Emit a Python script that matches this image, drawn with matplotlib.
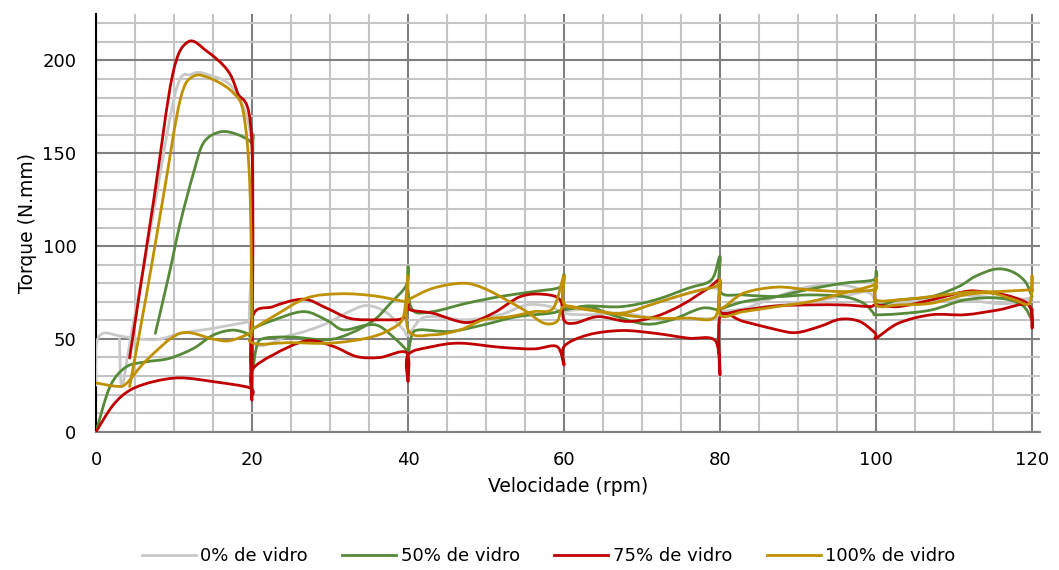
import numpy as np
import matplotlib
matplotlib.use("Agg")
import matplotlib.pyplot as plt
from matplotlib.path import Path
from matplotlib.patches import PathPatch
from matplotlib.lines import Line2D

# Torque (N.mm) vs speed (rpm), two runs per glass content
gray_a_x = [0, 0, 0.9, 3, 5.6, 8.2, 10.8, 15, 19.7, 20]
gray_a_y = [25, 46, 53, 51.6, 49.9, 49.9, 53, 55.7, 59.3, 59]

gray_b_x = [3.0, 3.3, 4.4, 7, 10.2, 12.2, 14.3, 17.7, 19.9, 20, 20, 24.9, 29.1, 32.1, 34.7, 37.3, 39.4, 40,
            41.5, 43.2, 47.5, 51.8, 55.2, 58.2, 60, 63, 67.4, 71.7, 75.9, 79.4, 80, 83, 87.3, 91.5, 95.8,
            99.2, 100, 102.9, 107.1, 111.4, 115.7, 119.1, 120]
gray_b_y = [50, 24.3, 49.6, 109.5, 183, 192.5, 192.4, 184.3, 157, 100, 49.5, 52, 57.5, 64, 68, 64, 55, 52,
            60.3, 62, 60.3, 63, 68.3, 67.4, 63.8, 63, 63.8, 61.2, 61, 61, 62, 66, 72.8, 78.2, 79,
            74.6, 71, 69, 71, 71, 69, 70, 72]

gray_c_x = [60, 63.1, 67.4, 73.8, 79.4, 80, 83, 87.3, 91.5, 95.8, 99.7, 100, 102.9, 107.1, 111.4, 115.7,
            119.1, 120]
gray_c_y = [65, 66, 64, 72, 77.3, 66, 66, 68, 70, 73, 76, 70, 70, 72.8, 73.5, 72, 71.5, 73]

green_a_x = [0, 1.8, 3.9, 6.5, 9.4, 12.5, 15, 17.4, 19.3, 20, 20, 22.7, 26.6, 29.6, 31.7, 34.7, 36.4,
             38.5, 39.8, 40, 40.5, 41.5, 45.4, 49.7, 54, 58.2, 60, 63.1, 66.1, 70.4, 73.8, 77.6, 79.8,
             80, 83, 87.3, 91.5, 95.8, 99.7, 100, 100, 102.9, 107.1, 110.6, 112.7, 115.3, 117.4, 119.1, 120]
green_a_y = [0, 24.4, 35, 37.7, 39.5, 44.9, 52, 54.7, 53, 50, 55, 60, 64.7, 60, 54.9, 57.5, 56.7,
             49.5, 44, 42, 52, 54.9, 54, 57.6, 62, 63.8, 65.6, 67.4, 63, 58, 60.3, 66.5, 65.6,
             66, 70, 72.8, 76.8, 80, 81.8, 86, 69, 71, 72.8, 78.2, 83.6, 87.6, 86.3, 81, 72.8]

green_b_x = [7.6, 9.4, 10.8, 12.5, 13.8, 15.9, 18, 19.9, 20.1, 20, 21, 24.9, 29.6, 32.6, 35.6, 37.7,
             39.8, 40, 40, 40.7, 43.2, 47.5, 51.8, 56.1, 59.5, 60, 60, 63.1, 67.4, 71.7, 75.9, 78.9,
             80, 80, 83, 87.3, 91.5, 95.8, 98.4, 99.7, 100, 102.9, 107.1, 111.4, 115.7, 118.7, 120]
green_b_y = [53, 85.5, 112.5, 139.5, 155.8, 161.5, 160.3, 155.8, 150, 40, 49.5, 51, 49.5, 53, 60, 69,
             79, 89, 76, 65, 64.7, 69.2, 72.8, 75.5, 77.9, 84.5, 67.4, 67.8, 67.4, 71, 77.3, 81.8,
             94.4, 75.5, 73.7, 72.8, 73.7, 72.8, 69.2, 63.8, 63, 63.5, 65.6, 71, 72, 68.3, 60]

red_a_x = [0, 2.2, 4.4, 7.4, 10.8, 15, 19.7, 20, 20, 22.7, 27, 30.4, 33.4, 36.4, 39.8, 40, 40, 43.2,
           46.7, 51.8, 56.1, 59.1, 60, 60, 63.1, 67.4, 71.7, 75.9, 79.4, 80, 80, 83, 87.3, 89.8, 92.8,
           95.4, 97.9, 99.9, 100, 102.9, 107.1, 111.4, 115.7, 119.5, 120, 120]
red_a_y = [0, 14.4, 22.5, 27, 29, 27, 23.7, 20, 33, 41.4, 49, 46, 40.5, 40, 42.6, 27, 41.4, 45.9,
           47.7, 45.5, 44.6, 45.9, 36, 45.9, 52.2, 54.5, 53, 50.4, 49, 30.6, 62, 59.4, 54.9, 53.4, 56.7,
           60.6, 59.4, 53, 50.4, 58.5, 63, 63, 65.6, 68.3, 55.8, 66]

red_b_x = [4.3, 7.4, 9.8, 11.8, 14.2, 16.8, 18.1, 19.96, 20, 20, 22.7, 26.6, 29.6, 32.6, 36.4,
           39.4, 40, 40.3, 43.2, 47.5, 50.9, 54.4, 57.4, 59.5, 60, 61.4, 64.4, 68.2, 71.7, 75.1, 78.5,
           80, 80, 83, 87.3, 91.5, 95.8, 99.2, 100, 102.9, 107.1, 111.4, 113.5, 116.5, 119.1, 120]
red_b_y = [39.7, 125, 192, 210, 205, 195, 183, 157, 20, 61, 67.4, 71.4, 66.5, 61, 60.3,
           61.2, 69, 65.6, 63.8, 58.8, 63.8, 72.8, 74, 71, 60, 58.5, 62, 59.4, 62, 68.3, 77.3,
           81, 64.7, 65.6, 67.8, 68.3, 68.3, 67.4, 68.3, 67.4, 71, 75.5, 75.5, 73.7, 70, 65.6]

gold_a_x = [0, 2.6, 3.9, 6.5, 10.8, 15, 17.1, 19.7, 20, 22.7, 27, 31.3, 35.6, 39.8, 40, 43.2, 47.1,
            49.7, 52.6, 55.2, 57.4, 59.1, 60, 63.1, 67.4, 71.7, 75.9, 79.4, 80, 80, 83, 87.3, 91.5,
            95.8, 99.7, 100, 100, 102.9, 107.1, 111.4, 115.7, 119.7, 120]
gold_a_y = [26.3, 24.5, 26, 38.6, 53, 49.9, 49, 53, 55, 62, 72, 74.3, 73.2, 70, 71, 77.3, 80,
            77.3, 71, 64.7, 58.5, 59.4, 67.5, 65.6, 63.8, 69.2, 74.6, 78.2, 80, 66.5, 74.6, 77.9, 76.4,
            75.5, 76.4, 79, 71, 71, 72.8, 75, 75.5, 76.4, 76]

gold_b_x = [4.3, 6.5, 8.7, 10.8, 12.5, 15, 17.6, 18.9, 19.7, 20, 20, 24.9, 30, 34.7, 37.7, 39.4, 40,
            40, 43.2, 46.7, 49.7, 53.1, 56.1, 58.6, 60, 60, 63, 67.4, 71.7, 75.9, 79.4, 80, 80, 83,
            87.3, 91.5, 95.8, 99.7, 100, 100, 102.9, 107.1, 111.4, 114.8, 117.8, 119.7, 120, 120]
gold_b_y = [24.3, 74.6, 128.6, 179, 191.5, 189.7, 182.5, 171.7, 134, 60, 48, 48, 47.7, 50.4, 55, 62, 84,
            55, 52.2, 54.9, 60.3, 62, 64.7, 66.5, 84, 69, 66, 63, 61.2, 61.2, 62, 82, 63, 64.7,
            67.4, 70, 74.6, 79, 82, 68.3, 68.3, 69.2, 73.7, 74.6, 71, 69.2, 84, 75]

labels = ["0% de vidro", "50% de vidro", "75% de vidro", "100% de vidro"]
colors = ["#C8C8C8", "#568A38", "#C00000", "#BF9000"]
runs = [
    [(gray_a_x, gray_a_y), (gray_b_x, gray_b_y), (gray_c_x, gray_c_y)],
    [(green_a_x, green_a_y), (green_b_x, green_b_y)],
    [(red_a_x, red_a_y), (red_b_x, red_b_y)],
    [(gold_a_x, gold_a_y), (gold_b_x, gold_b_y)],
]


def smooth_path(xs, ys):
    # Catmull-Rom through the points, written as cubic Bezier pieces
    pts = np.column_stack([xs, ys]).astype(float)
    p = np.vstack([pts[0], pts, pts[-1]])
    verts = [pts[0]]
    codes = [Path.MOVETO]
    for i in range(1, len(p) - 2):
        c1 = p[i] + (p[i + 1] - p[i - 1]) / 6
        c2 = p[i + 1] - (p[i + 2] - p[i]) / 6
        verts += [c1, c2, p[i + 1]]
        codes += [Path.CURVE4] * 3
    return Path(verts, codes)


plt.rcParams["font.family"] = ["DejaVu Sans"]
fig = plt.figure(figsize=(10.59, 5.70), dpi=100)
ax = fig.add_axes([0.0907, 0.2426, 0.8912, 0.7328])

for series, color in zip(runs, colors):
    for xs, ys in series:
        assert len(xs) == len(ys)
        ax.add_patch(PathPatch(smooth_path(xs, ys), facecolor="none", edgecolor=color,
                               lw=2.0, joinstyle="round", capstyle="round", zorder=3))

ax.set_xlim(0, 121)
ax.set_ylim(0, 225)
ax.set_xticks(np.arange(0, 121, 20))
ax.set_xticks(np.arange(0, 121, 5), minor=True)
ax.set_yticks(np.arange(0, 201, 50))
ax.set_yticks(np.arange(0, 221, 10), minor=True)
ax.grid(which="major", color="#808080", lw=1.5, zorder=1)
ax.grid(which="minor", color="#C4C4C4", lw=1.5, zorder=0)
ax.set_axisbelow(True)
ax.tick_params(which="both", length=0, labelsize=13, pad=14)

for side in ["top", "right"]:
    ax.spines[side].set_visible(False)
ax.spines["left"].set_color("black")
ax.spines["left"].set_linewidth(1.5)
ax.spines["bottom"].set_color("#808080")
ax.spines["bottom"].set_linewidth(1.5)

ax.set_xlabel("Velocidade (rpm)", fontsize=13.5, labelpad=6)
ax.set_ylabel("Torque (N.mm)", fontsize=13.5, labelpad=4)

handles = [Line2D([], [], color=c, lw=2.0) for c in colors]
fig.legend(handles, labels, loc="center", bbox_to_anchor=(0.518, 0.024), ncol=4, frameon=False,
           fontsize=13, handlelength=3.0, handletextpad=0.25, columnspacing=1.9)

fig.savefig("out.png", dpi=100)
